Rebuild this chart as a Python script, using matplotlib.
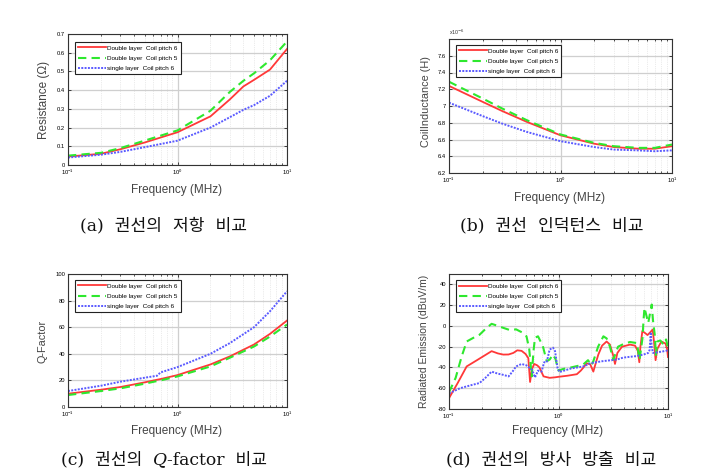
import numpy as np
import matplotlib
matplotlib.use("Agg")
import matplotlib.pyplot as plt
from matplotlib.ticker import LogLocator, NullFormatter, FixedLocator

# ---------------- data ----------------
labels = ["Double layer  Coil pitch 6", "Double layer  Coil pitch 5", "single layer  Coil pitch 6"]

f_a = [0.1, 0.2, 0.3, 0.5, 1.0, 2.0, 3.0, 4.0, 5.0, 7.0, 10.0]
res_red = [0.045, 0.060, 0.084, 0.120, 0.175, 0.260, 0.350, 0.420, 0.455, 0.510, 0.620]
res_green = [0.050, 0.065, 0.090, 0.130, 0.185, 0.290, 0.390, 0.450, 0.490, 0.560, 0.660]
res_blue = [0.040, 0.055, 0.070, 0.095, 0.130, 0.200, 0.255, 0.295, 0.320, 0.370, 0.450]

f_b = [0.1, 0.2, 0.3, 0.5, 1.0, 2.0, 3.0, 5.0, 7.0, 10.0]
ind_red = [7.24, 7.05, 6.94, 6.81, 6.65, 6.55, 6.51, 6.49, 6.49, 6.52]
ind_green = [7.29, 7.09, 6.97, 6.83, 6.66, 6.56, 6.52, 6.50, 6.50, 6.54]
ind_blue = [7.04, 6.88, 6.79, 6.69, 6.58, 6.51, 6.48, 6.47, 6.46, 6.47]

f_c = [0.1, 0.2, 0.3, 0.5, 0.65, 0.7, 1.0, 2.0, 3.0, 5.0, 7.0, 10.0]
q_red = [10, 13, 15, 18.5, 20.5, 21, 24, 32, 38, 47, 55, 65]
q_green = [9, 12, 14, 17.5, 19.5, 20, 23, 30.5, 37, 45.5, 53, 62]
q_blue = [12, 16, 19, 22, 23.5, 26, 30, 40, 48, 60, 72, 87]

f_d_red = [0.1, 0.12, 0.145, 0.18, 0.245, 0.28, 0.313, 0.35, 0.387, 0.42, 0.46, 0.5, 0.53,
           0.55, 0.57, 0.60, 0.64, 0.67, 0.73, 0.83, 0.93, 1.0, 1.2, 1.47, 1.6, 1.69, 1.81,
           1.95, 2.08, 2.2, 2.31, 2.5, 2.75, 2.95, 3.15, 3.28, 3.45, 3.8, 4.5, 5.0, 5.3, 5.47,
           5.6, 5.83, 6.2, 6.5, 6.9, 7.24, 7.45, 7.7, 8.0, 8.7, 9.5, 9.8, 10.0]
re_red = [-69.6, -55, -39, -33, -24.3, -26.5, -27.6, -27.5, -26, -23.5, -24, -27, -31,
          -54, -42, -36.6, -38, -40, -48.6, -50, -49.5, -49, -48, -46.5, -43, -40, -36,
          -37, -44, -35, -27.6, -19, -15, -18, -28, -36.6, -26, -20, -18, -19, -24, -35,
          -20, -5, -7, -8.8, -6, -3.5, -15, -33, -22, -15, -17, -22, -30]

f_d_green = [0.1, 0.115, 0.13, 0.145, 0.17, 0.19, 0.22, 0.245, 0.28, 0.31, 0.36, 0.41, 0.47,
             0.51, 0.54, 0.57, 0.59, 0.61, 0.65, 0.72, 0.78, 0.83, 0.89, 0.94, 0.97, 1.0,
             1.1, 1.3, 1.5, 1.69, 1.86, 2.0, 2.08, 2.3, 2.57, 2.75, 2.95, 3.16, 3.5, 4.0,
             4.5, 5.2, 5.5, 5.85, 5.98, 6.1, 6.35, 6.6, 6.85, 7.1, 7.3, 7.6, 7.75, 8.0,
             8.5, 9.1, 9.6, 10.0]
re_green = [-64, -50, -30, -15, -11, -8.5, -2, 2, 0, -1.7, -4, -3.3, -6.5,
            -10, -22, -48.6, -25, -11.4, -10, -19.5, -34, -32.4, -27.6, -32, -38, -43,
            -41.5, -40, -38.5, -37, -33, -38, -34, -20, -10, -12, -20, -32.6, -20, -17,
            -15.5, -16.5, -32.6, -11.6, 6, 17.4, 10, 2.9, 12, 20.6, 5, -10, -28, -15,
            -14, -18, -13, -21]

f_d_blue = [0.1, 0.126, 0.16, 0.19, 0.215, 0.245, 0.28, 0.31, 0.35, 0.38, 0.41, 0.46, 0.51,
            0.57, 0.61, 0.65, 0.70, 0.74, 0.78, 0.83, 0.89, 0.93, 0.98, 1.02, 1.3, 1.69,
            1.94, 2.5, 3.4, 3.9, 5.2, 6.0, 6.6, 6.8, 6.95, 7.1, 7.3, 7.9, 9.0, 10.0]
re_blue = [-65, -60, -57, -55, -50, -44, -46, -47, -48.6, -44, -39, -36.6, -38,
           -42, -49.6, -43, -44, -35, -35, -22.7, -21, -24.3, -40.5, -44.4, -41, -39,
           -36, -34, -32.4, -30.5, -29, -27.5, -26, -23, -6, -20, -26, -25.5, -24.5, -23.5]

ylabels = ["Resistance (\u03a9)", "CoilInductance (H)", "Q-Factor", "Radiated Emission (dBuV/m)"]
xlabel = "Frequency (MHz)"
y_ticks = [[0, 0.1, 0.2, 0.3, 0.4, 0.5, 0.6, 0.7],
           [6.2, 6.4, 6.6, 6.8, 7.0, 7.2, 7.4, 7.6],
           [0, 20, 40, 60, 80, 100],
           [-80, -60, -40, -20, 0, 20, 40]]
y_ticklabels = [["0", "0.1", "0.2", "0.3", "0.4", "0.5", "0.6", "0.7"],
                ["6.2", "6.4", "6.6", "6.8", "7", "7.2", "7.4", "7.6"],
                ["0", "20", "40", "60", "80", "100"],
                ["-80", "-60", "-40", "-20", "0", "20", "40"]]
y_lims = [(0, 0.7), (6.2, 7.8), (0, 100), (-80, 50)]
captions = ["(a)  권선의  저항  비교", "(b)  권선  인덕턴스  비교",
            ("(c)  권선의  ", "Q", "-factor  비교"), "(d)  권선의  방사  방출  비교"]

# ---------------- style ----------------
plt.rcParams['font.family'] = ['Liberation Sans', 'DejaVu Sans']
RED = '#ff3838'
GREEN = '#2ee82e'
BLUE = '#5a5aff'

W, H = 701, 476
fig = plt.figure(figsize=(W / 100, H / 100), dpi=100)


def px_axes(l, t, r, b):
    return fig.add_axes([l / W, 1 - b / H, (r - l) / W, (b - t) / H])


def style(ax, i, leg_xy):
    ax.set_xscale('log')
    ax.set_xlim(0.1, 10)
    ax.set_ylim(*y_lims[i])
    ax.yaxis.set_major_locator(FixedLocator(y_ticks[i]))
    ax.set_yticklabels(y_ticklabels[i])
    ax.xaxis.set_major_locator(LogLocator(base=10, numticks=5))
    ax.xaxis.set_minor_locator(LogLocator(base=10, subs=np.arange(2, 10), numticks=10))
    ax.xaxis.set_minor_formatter(NullFormatter())
    ax.grid(True, which='major', color='#cfcfcf', lw=0.9)
    ax.grid(True, which='minor', axis='x', color='#d8d8d8', lw=0.5, ls=':')
    ax.set_axisbelow(True)
    ax.tick_params(which='both', direction='in', labelsize=4.2, length=2, width=0.5,
                   top=True, right=True, pad=2)
    ax.tick_params(which='minor', length=1.2)
    for s in ax.spines.values():
        s.set_linewidth(0.8)
        s.set_color('#333333')
    leg = ax.legend(labels, loc='upper left', bbox_to_anchor=leg_xy, borderaxespad=0,
                    fontsize=4.6, frameon=True, fancybox=False, framealpha=1,
                    edgecolor='#222222', handlelength=4.4, handletextpad=0.1,
                    labelspacing=0.75, borderpad=0.5)
    leg.get_frame().set_linewidth(0.8)


def draw(ax, f_r, r, f_g, g, f_b_, b):
    ax.plot(f_r, r, color=RED, lw=1.3, ls='-')
    ax.plot(f_g, g, color=GREEN, lw=1.5, ls=(0, (4, 2.5)))
    ax.plot(f_b_, b, color=BLUE, lw=1.4, ls=(0, (1, 0.7)))


# panel a
ax1 = px_axes(68, 34, 287, 165)
draw(ax1, f_a, res_red, f_a, res_green, f_a, res_blue)
style(ax1, 0, (0.032, 0.94))

# panel b
ax2 = px_axes(449, 39, 672, 173)
draw(ax2, f_b, ind_red, f_b, ind_green, f_b, ind_blue)
style(ax2, 1, (0.03, 0.955))
ax2.text(0.0, 1.015, r"x10$^{-6}$", transform=ax2.transAxes, fontsize=3.8,
         ha='left', va='bottom', color='#333333')

# panel c
ax3 = px_axes(68, 274, 287, 407)
draw(ax3, f_c, q_red, f_c, q_green, f_c, q_blue)
style(ax3, 2, (0.032, 0.955))

# panel d
ax4 = px_axes(449, 274, 668, 409)
draw(ax4, f_d_red, re_red, f_d_green, re_green, f_d_blue, re_blue)
style(ax4, 3, (0.03, 0.955))


def ftext(x, y, s, **kw):
    return fig.text(x / W, 1 - y / H, s, **kw)


lab_col = '#444444'
ftext(177, 190, xlabel, fontsize=8.5, ha='center', va='center', color=lab_col)
ftext(560, 198, xlabel, fontsize=8.5, ha='center', va='center', color=lab_col)
ftext(177, 431, xlabel, fontsize=8.5, ha='center', va='center', color=lab_col)
ftext(558, 431, xlabel, fontsize=8.5, ha='center', va='center', color=lab_col)

ftext(44, 100, ylabels[0], fontsize=8.5, rotation=90, ha='center', va='center', color=lab_col)
ftext(426, 102, ylabels[1], fontsize=7.8, rotation=90, ha='center', va='center', color=lab_col)
ftext(42, 341, ylabels[2], fontsize=7.8, rotation=90, ha='center', va='center', color=lab_col)
ftext(424, 341, ylabels[3], fontsize=7.5, rotation=90, ha='center', va='center', color=lab_col)

# captions
cap_fam = ['DejaVu Serif', 'Noto Sans CJK KR']
CAP_FS = 12.3
cap_kw = dict(fontsize=CAP_FS, family=cap_fam, ha='center', va='center', color='#111111')
ftext(164, 226, captions[0], **cap_kw)
ftext(552, 226, captions[1], **cap_kw)
ftext(551, 460, captions[3], **cap_kw)

# caption (c) with italic Q
renderer = fig.canvas.get_renderer()
kw_l = dict(cap_kw, ha='left')
p1 = ftext(0, 460, captions[2][0], **kw_l)
p2 = fig.text(0, 1 - 460 / H, captions[2][1], fontsize=CAP_FS, family='DejaVu Serif',
              style='italic', ha='left', va='center', color='#111111')
p3 = ftext(0, 460, captions[2][2], **kw_l)
w1 = p1.get_window_extent(renderer).width
w2 = p2.get_window_extent(renderer).width
w3 = p3.get_window_extent(renderer).width
x0 = 164 - (w1 + w2 + w3) / 2
p1.set_x(x0 / W)
p2.set_x((x0 + w1) / W)
p3.set_x((x0 + w1 + w2) / W)

fig.savefig("out.png", dpi=100)
